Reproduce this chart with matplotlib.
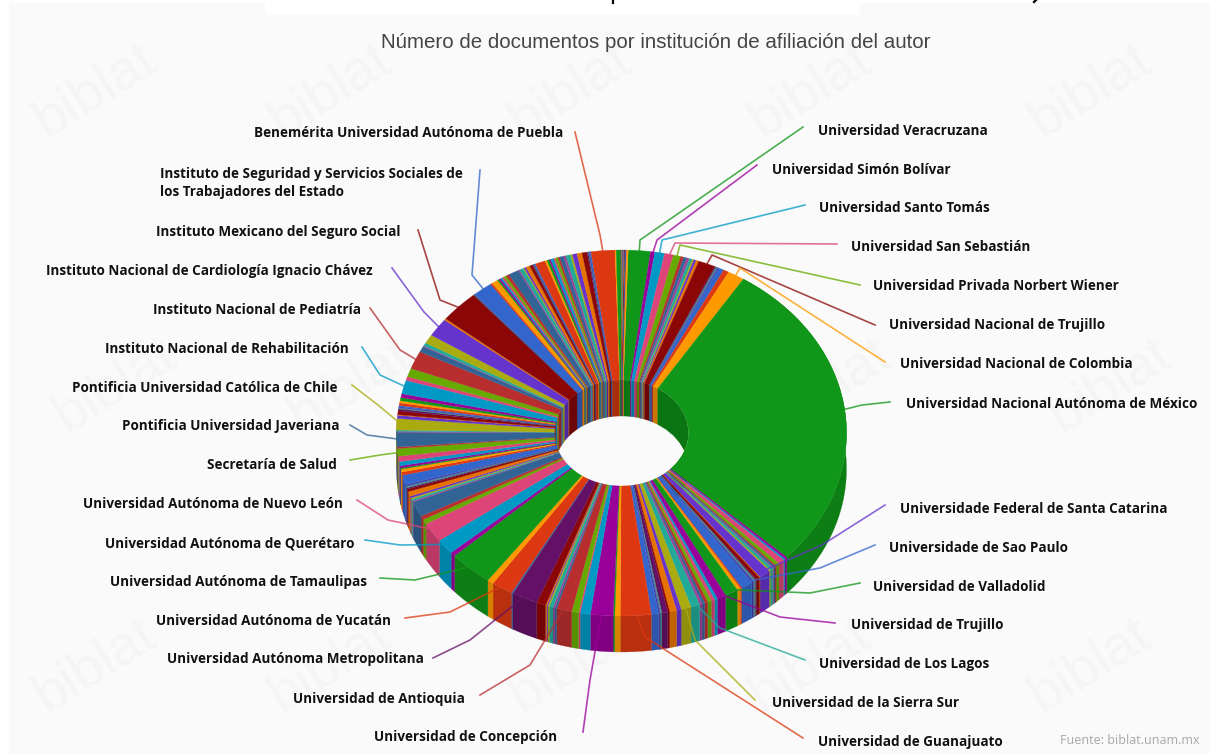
import numpy as np
import matplotlib
matplotlib.use("Agg")
import matplotlib.pyplot as plt
from matplotlib.colors import to_rgb

paleta = ["#3366cc", "#dc3912", "#ff9900", "#109618", "#990099", "#0099c6", "#dd4477",
          "#66aa00", "#b82e2e", "#316395", "#994499", "#22aa99", "#aaaa11", "#6633cc",
          "#e67300", "#8b0707", "#651067", "#329262", "#5574a6", "#3b3eac"]

# clockwise from the top, every row is one turn of the palette starting on green
vuelta_1 = [5.7, 1.1, 2.5, 2.3, 1.9, .8, .8, .7, .8, .4, .6, .7, 4.4, .3, .2, .3, .3, 1.4, 1.4, 4.3]
vuelta_2 = [99.4, .7, .5, 1.6, 1.0, .4, .5, .3, .8, .4, 3.0, .2, 1.0, .3, .3, .3, .5, 3.1, .4, .9]
vuelta_3 = [3.4, 2.3, .8, .9, 1.0, .8, .7, .7, 2.3, 2.6, 1.2, 1.8, .5, 1.5, .2, .3, .4, 1.8, 7.9, 1.4]
vuelta_4 = [.4, 5.8, 2.6, .4, 1.8, 3.9, .5, .5, 1.0, .4, .3, .3, 2.4, 6.7, .1, .1, .1, .1, 5.5, 1.6]
vuelta_5 = [11.4, 1.3, 4.8, 6.2, 1.5, 1.2, 4.8, .4, .6, .4, .6, 1.5, .8, .4, .3, .3, .5, 3.0, 1.0, .9]
vuelta_6 = [.4, .7, 1.3, 1.7, 2.4, .5, 4.6, .3, .4, 3.6, 1.0, .2, 1.2, .6, .2, .2, .3, .4, .8, .7]
vuelta_7 = [1.0, 1.2, 4.3, 1.2, 2.7, 5.7, 1.8, .3, 1.0, 2.8, 5.8, .5, 10.2, .1, .1, .1, .2, 5.0, .5, 1.6]
vuelta_8 = [.4, .5, .5, .5, .7, .8, 2.7, .4, 1.0, .3, .5, 1.0, .8, .2, .1, .1, .2, .2, 2.6, .5]
vuelta_9 = [.6, .4, .8, .4, .7, .5, 1.0, .6, 1.2, .5, 1.2, 1.3, 1.3, .3, .1, .1, .2, .3, 6.1, .3]
vuelta_10 = [1.2, .08, .08, .08, .08, .08, .08, .08, .08, .08, .08, .08, .08, .08, .08, .08, .08, .08, .08, .4]

instituciones = [
    "Universidad Veracruzana", "Universidad Simón Bolívar", "Universidad Santo Tomás",
    "Universidad San Sebastián", "Universidad Privada Norbert Wiener",
    "Universidad Nacional de Trujillo", "Universidad Nacional de Colombia",
    "Universidad Nacional Autónoma de México", "Universidade Federal de Santa Catarina",
    "Universidade de Sao Paulo", "Universidad de Valladolid", "Universidad de Trujillo",
    "Universidad de Los Lagos", "Universidad de la Sierra Sur", "Universidad de Guanajuato",
    "Universidad de Concepción", "Universidad de Antioquia", "Universidad Autónoma Metropolitana",
    "Universidad Autónoma de Yucatán", "Universidad Autónoma de Tamaulipas",
    "Universidad Autónoma de Querétaro", "Universidad Autónoma de Nuevo León",
    "Secretaría de Salud", "Pontificia Universidad Javeriana",
    "Pontificia Universidad Católica de Chile", "Instituto Nacional de Rehabilitación",
    "Instituto Nacional de Pediatría", "Instituto Nacional de Cardiología Ignacio Chávez",
    "Instituto Mexicano del Seguro Social",
    "Instituto de Seguridad y Servicios Sociales de\nlos Trabajadores del Estado",
    "Benemérita Universidad Autónoma de Puebla"]
# which slice each name belongs to
rebanada = [0, 1, 2, 3, 4, 12, 19, 20, 30, 37, 40, 41, 48, 49, 58, 61, 65, 73, 78, 80, 82, 83,
            104, 106, 109, 122, 125, 130, 132, 137, 178]

# layout in pixels: text anchor, then knee and far end of each leader
texto_x = [818, 772, 819, 851, 873, 889, 900, 906, 900, 889, 873, 851, 819, 772, 818, 374, 293, 167,
           156, 110, 105, 83, 207, 122, 72, 105, 153, 46, 156, 160, 254]
texto_y = [131, 170, 208, 247, 286, 325, 364, 404, 509, 548, 587, 625, 664, 703, 742, 737, 699, 659,
           621, 582, 543, 504, 465, 426, 388, 349, 310, 271, 232, 183, 133]
codo_x = [640, 657, 662, 675, 680, 712, 740, 862, 822, 820, 810, 780, 720, 695, 645, 590, 530, 470,
          450, 415, 400, 388, 380, 367, 378, 380, 400, 424, 440, 472, 600]
codo_y = [240, 240, 240, 243, 245, 255, 268, 405, 545, 568, 593, 617, 628, 640, 637, 680, 665, 640,
          612, 580, 545, 520, 455, 435, 405, 375, 350, 312, 300, 275, 235]
fin_x = [803, 757, 805, 837, 860, 875, 885, 890, 885, 875, 860, 835, 805, 755, 803, 583, 480, 433,
         405, 380, 365, 357, 350, 350, 352, 362, 370, 392, 418, 480, 575]
fin_y = [127, 165, 205, 244, 285, 325, 362, 402, 505, 545, 583, 623, 660, 700, 738, 732, 695, 658,
         618, 578, 540, 500, 460, 425, 385, 347, 308, 268, 230, 170, 132]

CX, CY = 621.5, 433.0
RX, RY = 225.0, 183.0
HX, HY = 67.0, 53.0
ALTO = 36.0


def oscuro(color, f=0.84):
    return tuple(c * f for c in to_rgb(color))


def punto(theta, rx, ry, dy=0.0):
    return CX + rx * np.sin(theta), CY - ry * np.cos(theta) + dy


valores = np.array(vuelta_1 + vuelta_2 + vuelta_3 + vuelta_4 + vuelta_5 + vuelta_6 + vuelta_7
                   + vuelta_8 + vuelta_9 + vuelta_10)
colores = [paleta[(i + 3) % 20] for i in range(len(valores))]
bordes = np.radians(1.7) + np.concatenate([[0], np.cumsum(valores)]) / valores.sum() * 2 * np.pi

fig = plt.figure(figsize=(12.1, 7.54), dpi=100, facecolor="white")
ax = fig.add_axes([0, 0, 1, 1])
ax.set_xlim(0, 1210)
ax.set_ylim(754, 0)
ax.axis("off")

ax.fill([9, 1210, 1210, 9], [3, 3, 754, 754], color="#fafafa", lw=0, zorder=0)
ax.fill([265, 860, 860, 265], [0, 0, 15, 15], color="white", lw=0, zorder=0.5)
# what is left of a cropped heading on the top edge
ax.plot([613, 613], [0, 3], color="black", lw=1.6, zorder=6)
ax.plot([1036, 1034], [0, 2], color="black", lw=1.6, zorder=6)

# faint watermark
for fila, wy in enumerate([90, 385, 665]):
    for wx in [95, 330, 570, 810, 1090]:
        ax.text(wx + 20 * (fila % 2), wy, "biblat", fontsize=40, color="#f5f5f5", rotation=32,
                ha="center", va="center", family="Liberation Sans", zorder=1)

ax.text(656, 42, "Número de documentos por institución de afiliación del autor", fontsize=14.8,
        color="#444444", ha="center", va="center", family="Liberation Sans", zorder=6)
ax.text(1200, 741, "Fuente: biblat.unam.mx", fontsize=9, color="#a8a8a8", ha="right", va="center",
        family="Open Sans", zorder=6)

# inner wall, only the back half can be seen through the hole
for a, b, c in zip(bordes[:-1], bordes[1:], colores):
    if np.cos((a + b) / 2) > -0.3:
        t = np.linspace(a, b, 12)
        x, y = punto(t, HX, HY)
        x2, y2 = punto(t[::-1], HX, HY, ALTO)
        ax.fill(np.r_[x, x2], np.r_[y, y2], color=oscuro(c, 0.78), lw=0.2, zorder=2)

# outer wall, front half
for a, b, c in zip(bordes[:-1], bordes[1:], colores):
    if np.cos(a) < 0.05 or np.cos(b) < 0.05:
        t = np.linspace(a, b, 40)
        x, y = punto(t, RX, RY)
        x2, y2 = punto(t[::-1], RX, RY, ALTO)
        ax.fill(np.r_[x, x2], np.r_[y, y2], color=oscuro(c), lw=0.2, zorder=3)

# top face
for a, b, c in zip(bordes[:-1], bordes[1:], colores):
    t = np.linspace(a, b, max(3, int((b - a) * 60)))
    x, y = punto(t, RX, RY)
    x2, y2 = punto(t[::-1], HX, HY)
    ax.fill(np.r_[x, x2], np.r_[y, y2], color=c, lw=0.2, zorder=4)

# leaders and names
for nombre, i, tx, ty, kx, ky, fx, fy in zip(instituciones, rebanada, texto_x, texto_y, codo_x, codo_y,
                                             fin_x, fin_y):
    medio = (bordes[i] + bordes[i + 1]) / 2
    ax_, ay_ = punto(medio, RX * 0.98, RY * 0.98)
    ax.plot([ax_, kx, fx], [ay_, ky, fy], color=colores[i], lw=1.2, alpha=0.75, zorder=5,
            solid_joinstyle="round")
    ax.text(tx, ty, nombre, fontsize=9.75, fontweight="bold", color="#111111", family="Open Sans",
            ha="left", va="center", linespacing=1.45, zorder=6)

fig.savefig("out.png", dpi=100)
